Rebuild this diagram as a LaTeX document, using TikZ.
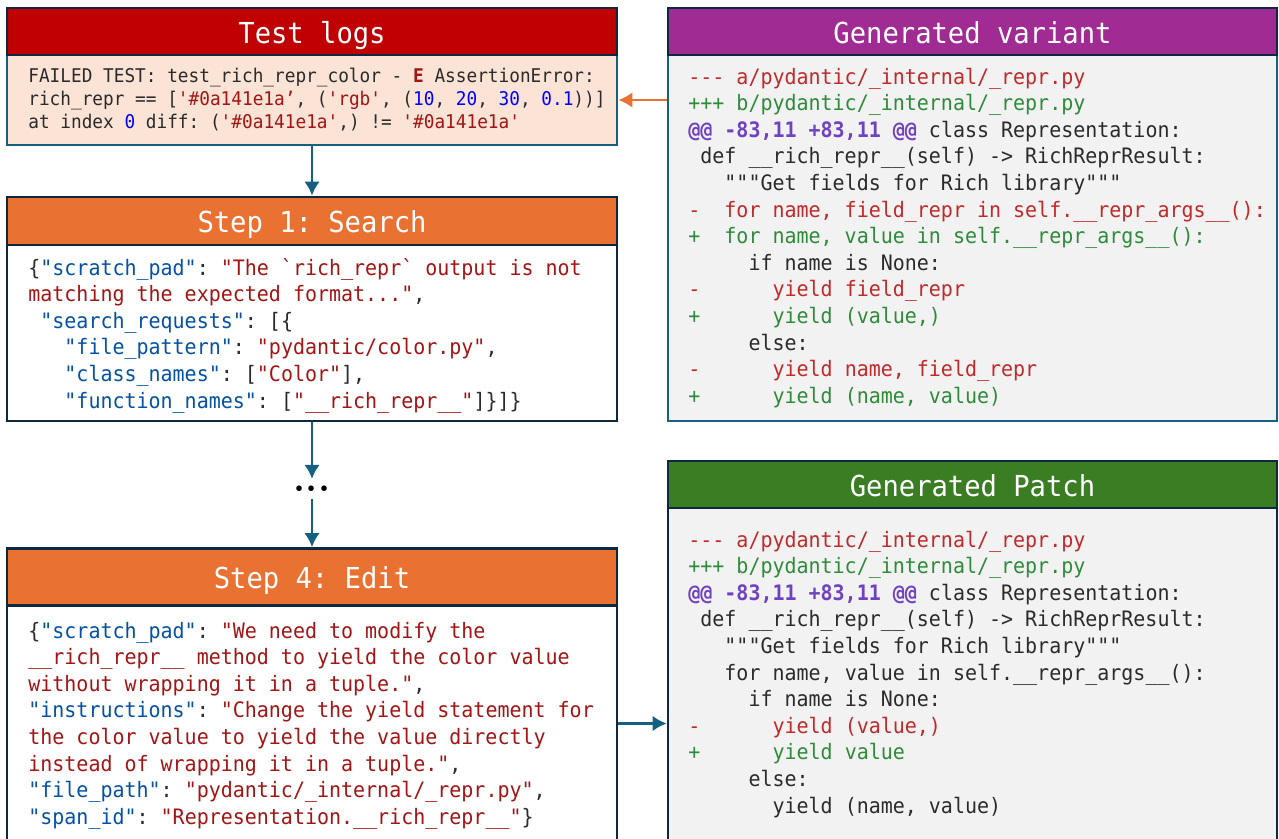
\documentclass[tikz,border=0pt]{standalone}
\usepackage{fontspec}
\setmonofont{DejaVu Sans Mono}[FakeStretch=0.94]
\usepackage{tikz}
\tikzset{>=latex}
\usetikzlibrary{arrows.meta}
\definecolor{framenavy}{HTML}{0E2841}
\definecolor{frameblue}{HTML}{156082}
\definecolor{logred}{HTML}{C00000}
\definecolor{steporange}{HTML}{E97132}
\definecolor{variantpurple}{HTML}{A02B93}
\definecolor{patchgreen}{HTML}{3B7D23}
\definecolor{logpeach}{HTML}{FBE3D6}
\definecolor{codegrey}{HTML}{F2F2F2}
\definecolor{plaintext}{HTML}{2B2B2B}
\definecolor{keyblue}{HTML}{0451A5}
\definecolor{strred}{HTML}{A31515}
\definecolor{numblue}{HTML}{0000FF}
\definecolor{delred}{HTML}{BF2A2A}
\definecolor{addgreen}{HTML}{2E8B3A}
\definecolor{hunkpurple}{HTML}{6F42C1}
\newcommand{\keytxt}[1]{\textcolor{keyblue}{#1}}
\newcommand{\strtxt}[1]{\textcolor{strred}{#1}}
\newcommand{\numtxt}[1]{\textcolor{numblue}{#1}}
\newcommand{\deltxt}[1]{\textcolor{delred}{#1}}
\newcommand{\addtxt}[1]{\textcolor{addgreen}{#1}}
\newcommand{\hunktxt}[1]{\textcolor{hunkpurple}{\bfseries #1}}
\newcommand{\codefont}{\ttfamily\fontsize{12.1}{15.15}\selectfont}
\newcommand{\logfont}{\ttfamily\fontsize{10.75}{13.1}\selectfont}
\newcommand{\headfont}{\ttfamily\fontsize{16.45}{20}\selectfont}

\begin{document}
\begin{tikzpicture}[x=0.02cm, y=-0.02cm]
    \tikzset{titlebar/.style = {draw=framenavy, line width=1.6pt, minimum width=12.2cm, inner sep=0pt, text=white, font=\headfont, text height=14pt, text depth=0.8pt},
             panel/.style = {line width=1.6pt, minimum width=12.2cm, inner sep=0pt},
             codetext/.style = {anchor=base west, inner sep=0pt, text=plaintext},
             flow/.style = {-{Latex[length=8pt, width=9pt]}, draw=frameblue, line width=1.7pt}}
    \clip (0, 0) rectangle (1279, 839);
    % left column
    \node[panel, draw=frameblue, fill=logpeach, minimum height=1.8cm] (logsbody) at (312, 100) {};
    \node[titlebar, fill=logred, minimum height=0.94cm] (logstitle) at (312, 31.5) {Test logs};
    \node[codetext, font=\logfont] (logstext) at (28, 82) {\begin{tabular}[t]{@{}l@{}}
        FAILED TEST: test\_rich\_repr\_color - \textcolor{strred}{\bfseries E} AssertionError:\\
        rich\_repr == [\strtxt{'\#0a141e1a’}, (\strtxt{'rgb'}, (\numtxt{10}, \numtxt{20}, \numtxt{30}, \numtxt{0.1}))]\\
        at index \numtxt{0} diff: (\strtxt{'\#0a141e1a'},) != \strtxt{'\#0a141e1a'}
    \end{tabular}};

    \node[panel, draw=framenavy, fill=white, minimum height=3.52cm] (searchbody) at (312, 333) {};
    \node[titlebar, fill=steporange, minimum height=0.96cm] (searchtitle) at (312, 221) {Step 1: Search};
    \node[codetext, font=\codefont] (searchtext) at (28, 275) {\begin{tabular}[t]{@{}l@{}}
        \{\keytxt{"scratch\_pad"}: \strtxt{"The `rich\_repr` output is not}\\
        \strtxt{matching the expected format..."},\\
        ~\keytxt{"search\_requests"}: [\{\\
        ~~~\keytxt{"file\_pattern"}: \strtxt{"pydantic/color.py"},\\
        ~~~\keytxt{"class\_names"}: [\strtxt{"Color"}],\\
        ~~~\keytxt{"function\_names"}: [\strtxt{"\_\_rich\_repr\_\_"}]\}]\}
    \end{tabular}};

    \node[inner sep=4pt, font=\fontsize{22}{24}\selectfont\bfseries] (dots) at (312, 489) {...};

    \node[panel, draw=framenavy, fill=white, minimum height=4.7cm] (editbody) at (312, 723.5) {};
    \node[titlebar, fill=steporange, minimum height=1.14cm] (edittitle) at (312, 577) {Step 4: Edit};
    \node[codetext, font=\codefont] (edittext) at (28, 638) {\begin{tabular}[t]{@{}l@{}}
        \{\keytxt{"scratch\_pad"}: \strtxt{"We need to modify the}\\
        \strtxt{\_\_rich\_repr\_\_ method to yield the color value}\\
        \strtxt{without wrapping it in a tuple."},\\
        \keytxt{"instructions"}: \strtxt{"Change the yield statement for}\\
        \strtxt{the color value to yield the value directly}\\
        \strtxt{instead of wrapping it in a tuple."},\\
        \keytxt{"file\_path"}: \strtxt{"pydantic/\_internal/\_repr.py"},\\
        \keytxt{"span\_id"}: \strtxt{"Representation.\_\_rich\_repr\_\_"}\}
    \end{tabular}};

    % right column
    \node[panel, draw=frameblue, fill=codegrey, minimum width=12.18cm, minimum height=7.32cm] (variantbody) at (972.5, 238) {};
    \node[titlebar, fill=variantpurple, minimum width=12.18cm, minimum height=0.94cm] (varianttitle) at (972.5, 31.5) {Generated variant};
    \node[codetext, font=\codefont] (varianttext) at (688, 84) {\begin{tabular}[t]{@{}l@{}}
        \deltxt{--- a/pydantic/\_internal/\_repr.py}\\
        \addtxt{+++ b/pydantic/\_internal/\_repr.py}\\
        \hunktxt{@@ -83,11 +83,11 @@} class Representation:\\
        ~def \_\_rich\_repr\_\_(self) -> RichReprResult:\\
        ~~~"""Get fields for Rich library"""\\
        \deltxt{-~~for name, field\_repr in self.\_\_repr\_args\_\_():}\\
        \addtxt{+~~for name, value in self.\_\_repr\_args\_\_():}\\
        ~~~~~if name is None:\\
        \deltxt{-~~~~~~yield field\_repr}\\
        \addtxt{+~~~~~~yield (value,)}\\
        ~~~~~else:\\
        \deltxt{-~~~~~~yield name, field\_repr}\\
        \addtxt{+~~~~~~yield (name, value)}
    \end{tabular}};

    \node[panel, draw=framenavy, fill=codegrey, minimum width=12.18cm, minimum height=6.66cm] (patchbody) at (972.5, 674.5) {};
    \node[titlebar, fill=patchgreen, minimum width=12.18cm, minimum height=0.94cm] (patchtitle) at (972.5, 484.5) {Generated Patch};
    \node[codetext, font=\codefont] (patchtext) at (688, 547) {\begin{tabular}[t]{@{}l@{}}
        \deltxt{--- a/pydantic/\_internal/\_repr.py}\\
        \addtxt{+++ b/pydantic/\_internal/\_repr.py}\\
        \hunktxt{@@ -83,11 +83,11 @@} class Representation:\\
        ~def \_\_rich\_repr\_\_(self) -> RichReprResult:\\
        ~~~"""Get fields for Rich library"""\\
        ~~~for name, value in self.\_\_repr\_args\_\_():\\
        ~~~~~if name is None:\\
        \deltxt{-~~~~~~yield (value,)}\\
        \addtxt{+~~~~~~yield value}\\
        ~~~~~else:\\
        ~~~~~~~yield (name, value)
    \end{tabular}};

    % arrows
    \draw[flow] (logsbody.south) -- (searchtitle.north);
    \draw[flow] (searchbody.south) -- (dots.north);
    \draw[flow] (dots.south) -- (edittitle.north);
    \draw[flow] (editbody.east) -- (editbody.east -| patchbody.west);
    \draw[flow, draw=steporange, line width=1.6pt] (logsbody.east -| variantbody.west) -- (logsbody.east);
\end{tikzpicture}
\end{document}
